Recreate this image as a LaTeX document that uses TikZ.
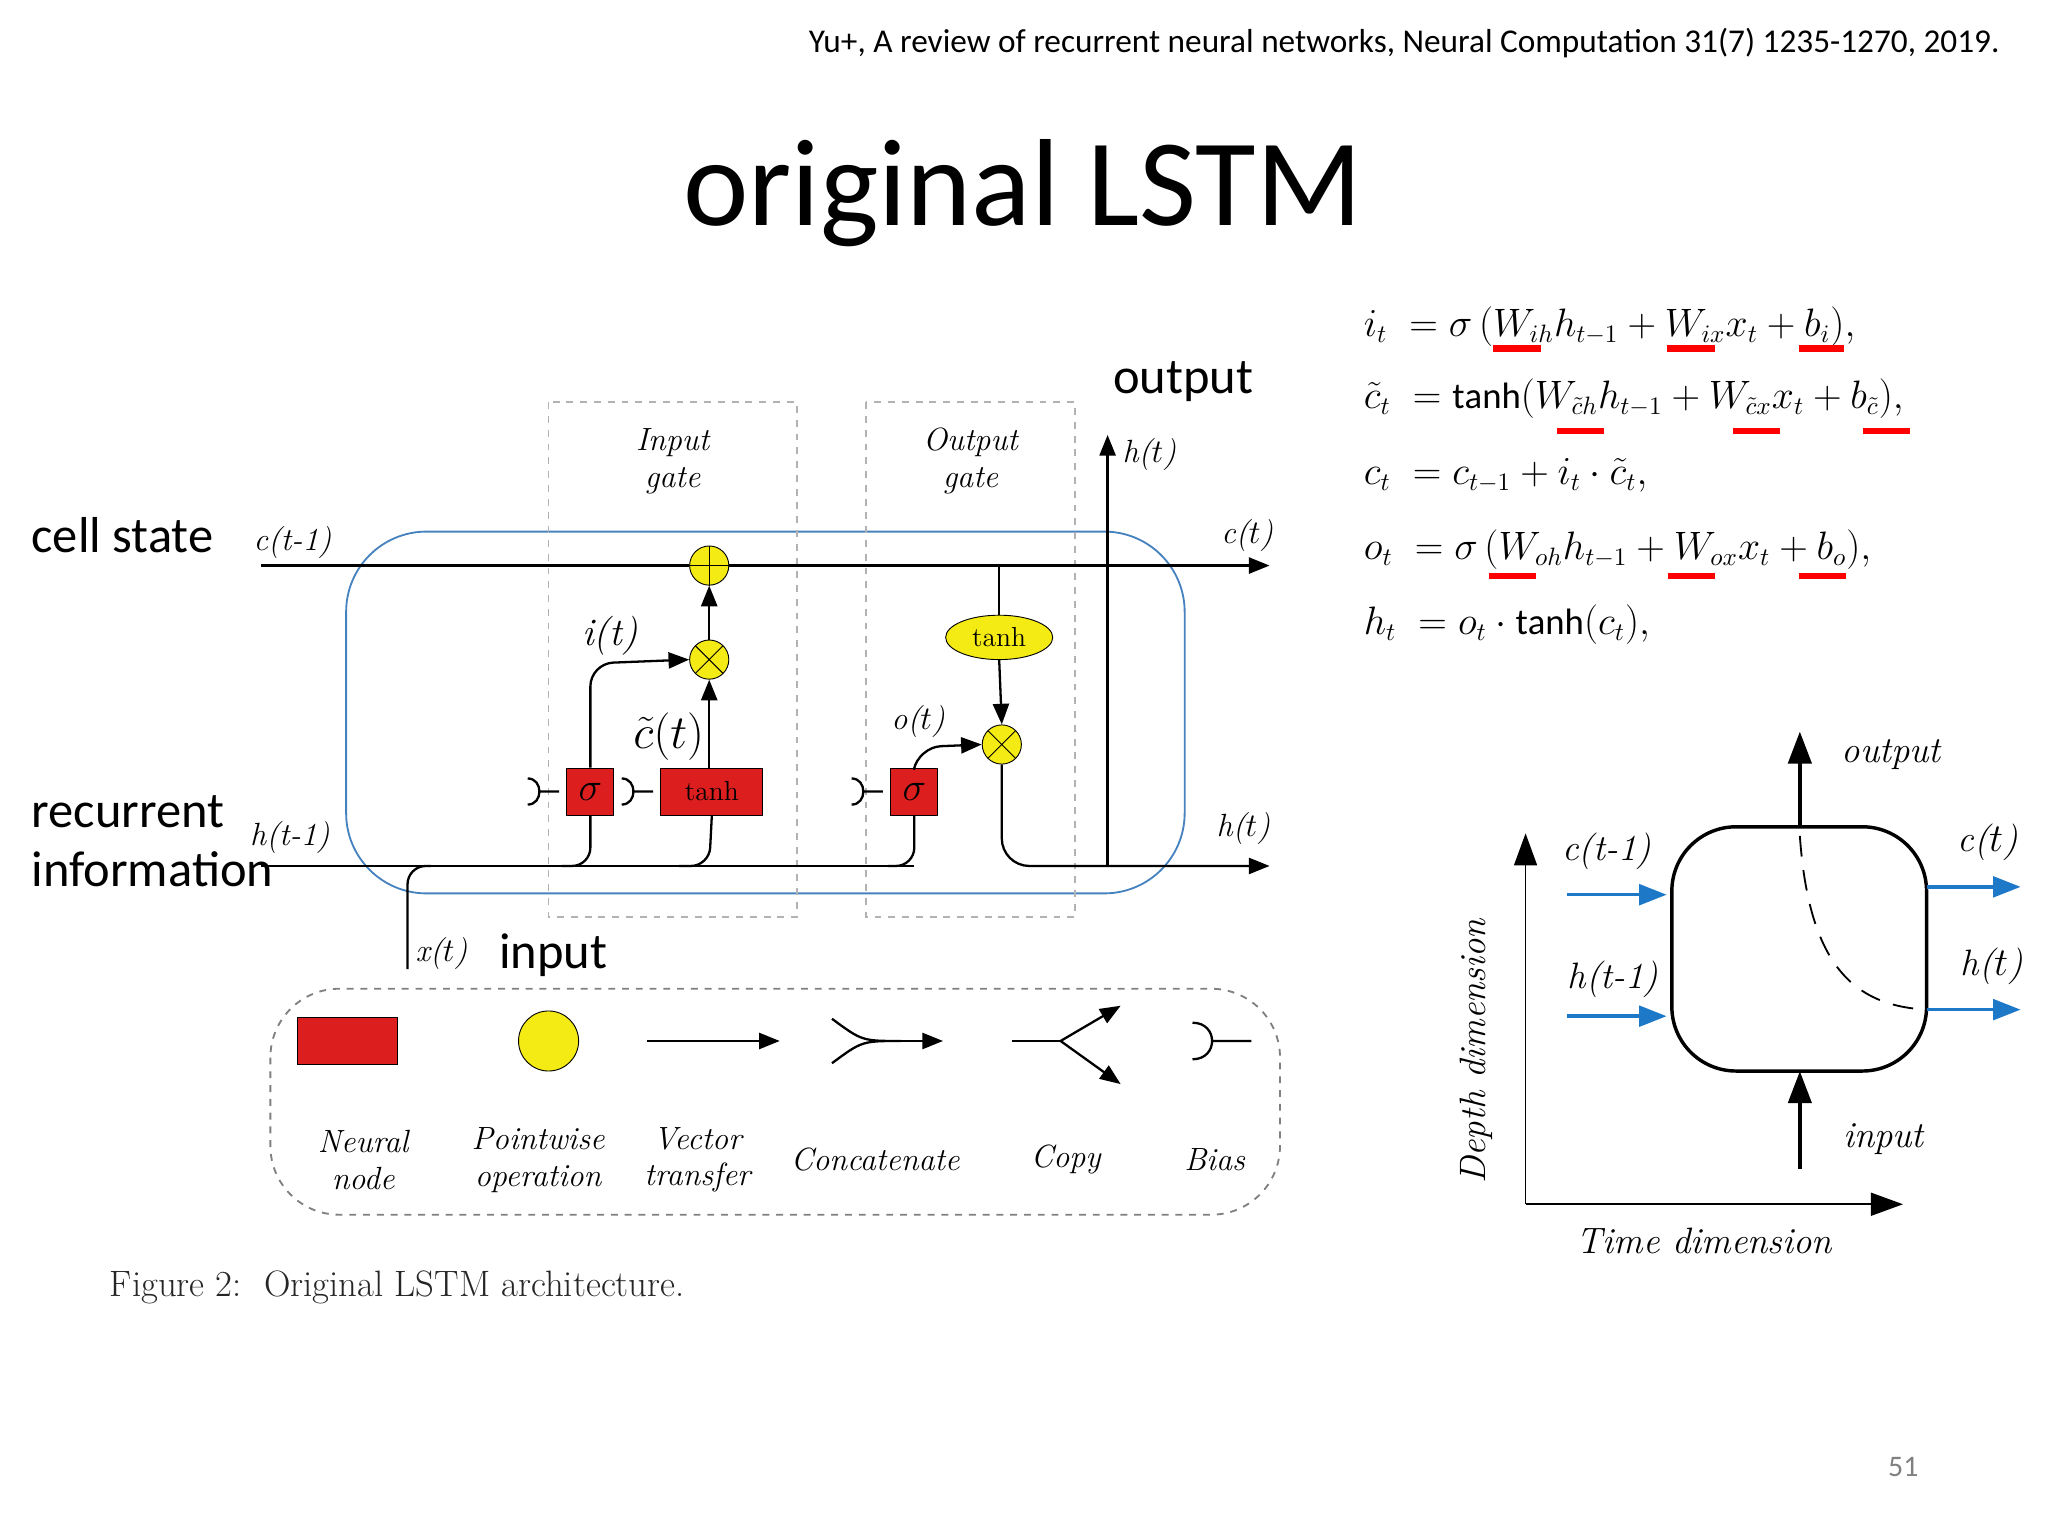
\documentclass[tikz,border=0pt]{standalone}
\usepackage{fontspec}
\setmainfont{Carlito}
\newfontfamily\serif{Latin Modern Roman}
\usepackage{amsmath}
\usetikzlibrary{arrows.meta,shapes.geometric}
\definecolor{nodered}{RGB}{220,30,30}
\definecolor{opyellow}{RGB}{245,235,20}
\definecolor{cellblue}{RGB}{70,130,190}
\definecolor{arrblue}{RGB}{30,120,200}
\begin{document}
\begin{tikzpicture}[x=0.02cm,y=-0.02cm,
  lab/.style={font=\serif\itshape\fontsize{14}{16}\selectfont},
  slide/.style={font=\fontsize{22}{26}\selectfont},
  nn/.style={draw=black,fill=nodered,minimum width=0.72cm,minimum height=0.72cm,inner sep=0pt,text=black},
  pw/.style={circle,draw=black,fill=opyellow,minimum size=0.6cm,inner sep=0pt},
  flow/.style={-{Triangle[length=9pt,width=7pt]},line width=1pt},
  wire/.style={line width=1pt},
  gate/.style={draw=gray!60,dashed,thick},
  uline/.style={red,line width=3pt},
  barr/.style={-{Triangle[length=12pt,width=9pt]},line width=1.5pt,arrblue}]
\useasboundingbox (0,0) rectangle (1568,1176);
% header and title
\node[anchor=east,font=\fontsize{14.5}{17}\selectfont] (ref) at (1537,33) {Yu+, A review of recurrent neural networks, Neural Computation 31(7) 1235-1270, 2019.};
\node[font=\fontsize{54}{60}\selectfont] (title) at (783,148) {original LSTM};
\node[anchor=west,slide] (cs) at (18,410) {cell state};
\node[anchor=west,slide,align=left] (ri) at (18,644) {recurrent\\information};
\node[anchor=west,slide] (outl) at (846,292) {output};
\node[anchor=west,slide] (inl) at (376,731) {input};
\node[anchor=east,text=gray,font=\fontsize{13}{15}\selectfont] (pg) at (1475,1123) {51};
% LSTM cell
\draw[cellblue,thick,rounded corners=35] (265,407) rectangle (907,684);
\draw[gate] (420,308) rectangle (610,702);
\draw[gate] (663,308) rectangle (823,702);
\node[lab,align=center] (ig) at (515,353) {Input\\gate};
\node[lab,align=center] (og) at (743,353) {Output\\gate};
\coordinate (cin) at (200,433);
\coordinate (cout) at (972,433);
\coordinate (hin) at (200,663);
\coordinate (hout) at (972,663);
\node[pw] (plus) at (543,433) {};
\draw (plus.north) -- (plus.south) (plus.west) -- (plus.east);
\draw[wire] (cin) -- (plus.west);
\draw[flow] (plus.east) -- (cout);
\node[pw] (mul) at (543,505) {};
\draw ([shift={(45:15)}]mul.center) -- ([shift={(225:15)}]mul.center) ([shift={(135:15)}]mul.center) -- ([shift={(315:15)}]mul.center);
\node[nn] (sgi) at (452,606) {\serif\itshape\LARGE$\sigma$};
\node[nn,minimum width=1.56cm] (tnh) at (545,606) {\serif\large tanh};
\node[nn] (sgo) at (700,606) {\serif\itshape\LARGE$\sigma$};
\node[pw] (mulo) at (767,570) {};
\draw ([shift={(45:15)}]mulo.center) -- ([shift={(225:15)}]mulo.center) ([shift={(135:15)}]mulo.center) -- ([shift={(315:15)}]mulo.center);
\node[ellipse,draw=black,fill=opyellow,minimum width=1.64cm,minimum height=0.68cm,inner sep=0pt] (tnc) at (765,488) {\serif\large tanh};
% recurrent line and branches
\draw[wire] (hin) -- (700,663);
\draw[wire,rounded corners=8] (312,742) -- (312,663) -- (330,663);
\draw[wire,rounded corners=8] (430,663) -- (452,663) -- (sgi.south);
\draw[wire,rounded corners=8] (520,663) -- (543,663) -- (tnh.south);
\draw[wire,rounded corners=8] (680,663) -- (700,663) -- (sgo.south);
\draw[flow,rounded corners=10] (sgi.north) -- (452,508) -- (mul.west);
\draw[flow] (tnh.north -| mul) -- (mul.south);
\draw[flow] (mul.north) -- (plus.south);
\draw[flow,rounded corners=10] (sgo.north) -- (703,572) -- (mulo.west);
\draw[wire] (765,433) -- (tnc.north);
\draw[flow] (tnc.south) -- (mulo.north);
\draw[flow,rounded corners=12] (mulo.south) -- (767,663) -- (hout);
\draw[flow] (848,663) -- (848,333);
% bias symbols
\foreach \bx/\nm in {412/b1,484/b2,660/b3}{
  \coordinate (\nm) at (\bx,606);
  \draw[line width=1pt] (\bx-8,596) .. controls (\bx+4,596) and (\bx+4,616) .. (\bx-8,616) (\bx,606) -- (\bx+16,606);
}
\node[lab] (lc) at (224,415) {c(t-1)};
\node[lab] (lcc) at (955,410) {c($t$)};
\node[lab] (lh) at (222,641) {h(t-1)};
\node[lab] (lhh) at (952,634) {h($t$)};
\node[lab] (lx) at (338,730) {x($t$)};
\node[lab] (lht) at (880,348) {h($t$)};
\node[lab,font=\serif\itshape\fontsize{17}{19}\selectfont] (li) at (467,487) {i(t)};
\node[font=\serif\fontsize{20}{22}\selectfont] (lct) at (512,564) {$\tilde c(t)$};
\node[lab] (lo) at (703,552) {o($t$)};
% legend
\draw[gray,dashed,thick,rounded corners=30] (207,757) rectangle (980,930);
\node[draw=black,fill=nodered,minimum width=1.54cm,minimum height=0.72cm,inner sep=0pt] (lgn) at (266,797) {};
\node[circle,draw=black,fill=opyellow,minimum size=0.92cm,inner sep=0pt] (lgp) at (420,797) {};
\coordinate (va) at (495,797); \coordinate (vb) at (597,797);
\draw[flow] (va) -- (vb);
\coordinate (ca) at (722,797);
\draw[line width=1pt] (637,780) .. controls (660,797) .. (690,797) (637,814) .. controls (660,797) .. (690,797);
\draw[flow] (690,797) -- (ca);
\coordinate (cp) at (775,797);
\draw[line width=1pt] (cp) -- (812,797);
\draw[flow] (812,797) -- (858,770);
\draw[flow] (812,797) -- (858,830);
\coordinate (bs) at (915,797);
\draw[line width=1pt] (913,783) .. controls (933,783) and (933,811) .. (913,811) (928,797) -- (958,797);
\node[lab,align=center] (t1) at (278,888) {Neural\\node};
\node[lab,align=center] (t2) at (412,888) {Pointwise\\operation};
\node[lab,align=center] (t3) at (534,888) {Vector\\transfer};
\node[lab] (t4) at (670,888) {Concatenate};
\node[lab] (t5) at (816,888) {Copy};
\node[lab] (t6) at (930,888) {Bias};
\node[anchor=west,font=\serif\fontsize{16}{18}\selectfont,text=black!85] (cap) at (78,986) {Figure 2:\ \ Original LSTM architecture.};
% equations
\begin{scope}[every node/.style={anchor=west,font=\serif\fontsize{16}{18}\selectfont}]
\node (e1) at (1038,250) {$i_t\;=\sigma\,(W_{ih}h_{t-1}+W_{ix}x_t+b_i),$};
\node (e2) at (1038,305) {$\tilde c_t\;=\tanh(W_{\tilde ch}h_{t-1}+W_{\tilde cx}x_t+b_{\tilde c}),$};
\node (e3) at (1038,364) {$c_t\;=c_{t-1}+i_t\cdot\tilde c_t,$};
\node (e4) at (1038,421) {$o_t\;=\sigma\,(W_{oh}h_{t-1}+W_{ox}x_t+b_o),$};
\node (e5) at (1038,478) {$h_t\;=o_t\cdot\tanh(c_t),$};
\end{scope}
\draw[uline] (1143,267) -- (1180,267) (1276,267) -- (1313,267) (1377,267) -- (1412,267);
\draw[uline] (1192,330) -- (1228,330) (1327,330) -- (1363,330) (1426,330) -- (1462,330);
\draw[uline] (1140,441) -- (1176,441) (1277,441) -- (1313,441) (1377,441) -- (1413,441);
% right diagram
\coordinate (org) at (1168,922);
\draw[-{Triangle[length=14pt,width=10pt]},thick] (org) -- (1168,638);
\draw[-{Triangle[length=14pt,width=10pt]},thick] (org) -- (1457,922);
\node[lab,font=\serif\itshape\fontsize{16}{18}\selectfont,rotate=90] (dd) at (1130,805) {Depth dimension};
\node[lab,font=\serif\itshape\fontsize{16}{18}\selectfont] (td) at (1305,950) {Time dimension};
\draw[line width=1.5pt,rounded corners=28] (1280,633) rectangle (1475,820);
\draw[-{Triangle[length=14pt,width=10pt]},line width=2pt] (1378,633) -- (1378,560);
\draw[-{Triangle[length=14pt,width=10pt]},line width=2pt] (1378,895) -- (1378,820);
\draw[thick,dash pattern=on 9pt off 6pt] (1378,640) .. controls (1385,740) and (1420,770) .. (1475,773);
\draw[barr] (1200,685) -- (1276,685);
\draw[barr] (1200,778) -- (1276,778);
\draw[barr] (1475,679) -- (1547,679);
\draw[barr] (1475,773) -- (1547,773);
\begin{scope}[every node/.style={lab,font=\serif\itshape\fontsize{16}{18}\selectfont}]
\node (r1) at (1230,652) {c(t-1)};
\node (r2) at (1235,750) {h(t-1)};
\node (r3) at (1522,645) {c($t$)};
\node (r4) at (1525,740) {h($t$)};
\node (r5) at (1448,578) {output};
\node (r6) at (1442,872) {input};
\end{scope}
\end{tikzpicture}
\end{document}
